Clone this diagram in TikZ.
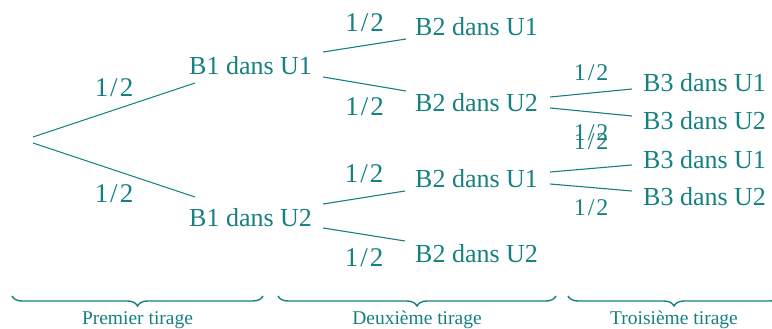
\documentclass[tikz,border=0pt]{standalone}
\usepackage{fontspec}
\setmainfont{Liberation Serif}
\usetikzlibrary{decorations.pathreplacing}
\definecolor{tl}{RGB}{22,128,128}
\tikzset{
  ev/.style={anchor=base west, inner sep=0pt, text=tl, font=\fontsize{26}{26}\selectfont},
  br/.style={draw=tl, line width=1.1pt},
  pr/.style={inner sep=0pt, text=tl, text height=18pt, text depth=0pt, font=\fontsize{27}{27}\selectfont},
  prs/.style={inner sep=0pt, text=tl, text height=16pt, text depth=0pt, font=\fontsize{24}{24}\selectfont},
  bracestyle/.style={draw=tl, line width=1.4pt, decorate, decoration={brace, mirror, amplitude=10pt}},
  tir/.style={inner sep=0pt, text=tl, font=\fontsize{19.5}{19.5}\selectfont}
}
\newcommand{\demi}{1\kern2pt/\kern2pt2}
\begin{document}
\begin{tikzpicture}[x=1pt, y=-1pt]
\useasboundingbox (0,0) rectangle (772,329);
\clip (0,0) rectangle (772,329);

\coordinate (root) at (33,140);
\node[ev] (b1u1) at (189,75) {B1 dans U1};
\node[ev] (b1u2) at (189,226) {B1 dans U2};
\node[ev] (b2u1a) at (415,36) {B2 dans U1};
\node[ev] (b2u2a) at (415,112) {B2 dans U2};
\node[ev] (b2u1b) at (415,187) {B2 dans U1};
\node[ev] (b2u2b) at (415,262) {B2 dans U2};
\node[ev] (b3u1a) at (643,92) {B3 dans U1};
\node[ev] (b3u2a) at (643,130) {B3 dans U2};
\node[ev] (b3u1b) at (643,168) {B3 dans U1};
\node[ev] (b3u2b) at (643,205) {B3 dans U2};

% first draw
\draw[br] ([shift={(0,-3)}]root) -- ([shift={(6,8)}]b1u1.base west)
  node[pr, midway, yshift=23pt] {\demi};
\draw[br] ([shift={(0,3)}]root) -- ([shift={(6,-29)}]b1u2.base west)
  node[pr, midway, yshift=-23pt] {\demi};

% second draw
\draw[br] ([shift={(11,-23)}]b1u1.base east) -- ([shift={(-9,3)}]b2u1a.base west)
  node[pr, midway, yshift=22.5pt] {\demi};
\draw[br] ([shift={(11,2)}]b1u1.base east) -- ([shift={(-9,-21)}]b2u2a.base west)
  node[pr, midway, yshift=-22pt] {\demi};
\draw[br] ([shift={(11,-22)}]b1u2.base east) -- ([shift={(-10,4)}]b2u1b.base west)
  node[pr, midway, yshift=24pt] {\demi};
\draw[br] ([shift={(11,2)}]b1u2.base east) -- ([shift={(-10,-21)}]b2u2b.base west)
  node[pr, midway, yshift=-22.5pt] {\demi};

% third draw
\draw[br] ([shift={(12,-15)}]b2u2a.base east) -- ([shift={(-11,-3)}]b3u1a.base west)
  node[prs, midway, yshift=20.5pt] {\demi};
\draw[br] ([shift={(12,-4)}]b2u2a.base east) -- ([shift={(-11,-14)}]b3u2a.base west)
  node[prs, midway, yshift=-20pt] {\demi};
\draw[br] ([shift={(12,-15)}]b2u1b.base east) -- ([shift={(-11,-3)}]b3u1b.base west)
  node[prs, midway, yshift=27pt] {\demi};
\draw[br] ([shift={(12,-3)}]b2u1b.base east) -- ([shift={(-11,-14)}]b3u2b.base west)
  node[prs, midway, yshift=-20pt] {\demi};

% braces
\draw[bracestyle] (12,296) -- (263,296)
  node[tir, midway, yshift=-24pt] {Premier tirage};
\draw[bracestyle] (278,296) -- (556,296)
  node[tir, midway, yshift=-24pt] {Deuxième tirage};
\draw[bracestyle] (568,296) -- (780,296)
  node[tir, midway, yshift=-24pt] {Troisième tirage};
\end{tikzpicture}
\end{document}
